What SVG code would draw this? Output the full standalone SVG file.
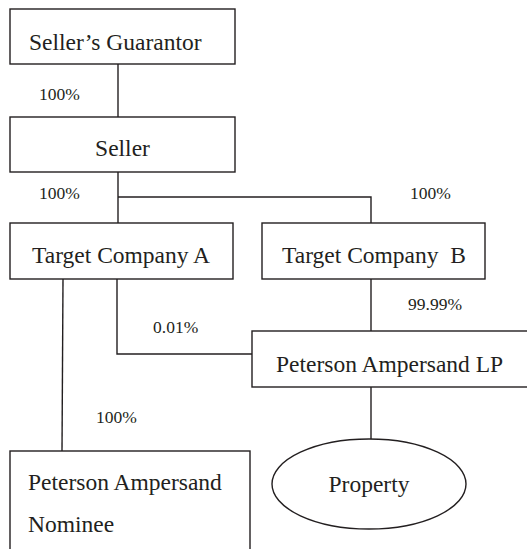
<svg xmlns="http://www.w3.org/2000/svg" width="527" height="549" viewBox="0 0 527 549">
<style>
.b{fill:#fff;stroke:#231f20;stroke-width:1.4}
.c{fill:none;stroke:#231f20;stroke-width:1.4}
.t{font-family:"Liberation Serif","Times New Roman",serif;font-size:23.5px;fill:#231f20}
.p{font-family:"Liberation Serif","Times New Roman",serif;font-size:17.5px;fill:#231f20}
</style>
<rect width="527" height="549" fill="#fff"/>
<g id="connectors">
<line class="c" x1="118" y1="64" x2="118" y2="117"/>
<polyline class="c" points="118,172 118,223"/>
<polyline class="c" points="118,197 371,197 371,223"/>
<line class="c" x1="371" y1="279" x2="371" y2="331"/>
<polyline class="c" points="117,279 117,354 252,354"/>
<line class="c" x1="63" y1="279" x2="62" y2="451"/>
<line class="c" x1="371" y1="387" x2="371" y2="439"/>
</g>
<g id="labels">
<text class="p" x="39" y="100">100%</text>
<text class="p" x="39" y="199">100%</text>
<text class="p" x="410" y="199">100%</text>
<text class="p" x="408" y="310">99.99%</text>
<text class="p" x="153" y="333">0.01%</text>
<text class="p" x="96" y="423">100%</text>
</g>
<g id="sellers-guarantor">
<rect class="b" x="10" y="9" width="225" height="55"/>
<text class="t" x="29" y="50">Seller’s Guarantor</text>
</g>
<g id="seller">
<rect class="b" x="10" y="117" width="225" height="55"/>
<text class="t" x="122.5" y="156" text-anchor="middle">Seller</text>
</g>
<g id="target-a">
<rect class="b" x="10" y="223" width="223" height="56"/>
<text class="t" x="32" y="263">Target Company A</text>
</g>
<g id="target-b">
<rect class="b" x="262" y="223" width="223" height="56"/>
<text class="t" x="282" y="263" xml:space="preserve">Target Company  B</text>
</g>
<g id="lp">
<rect class="b" x="252" y="331" width="290" height="56"/>
<text class="t" x="276" y="372">Peterson Ampersand LP</text>
</g>
<g id="property">
<ellipse class="b" cx="369" cy="484" rx="97" ry="45"/>
<text class="t" x="369" y="492" text-anchor="middle">Property</text>
</g>
<g id="nominee">
<rect class="b" x="10" y="451" width="240" height="110"/>
<text class="t" x="28" y="490">Peterson Ampersand</text>
<text class="t" x="28" y="532">Nominee</text>
</g>
</svg>
